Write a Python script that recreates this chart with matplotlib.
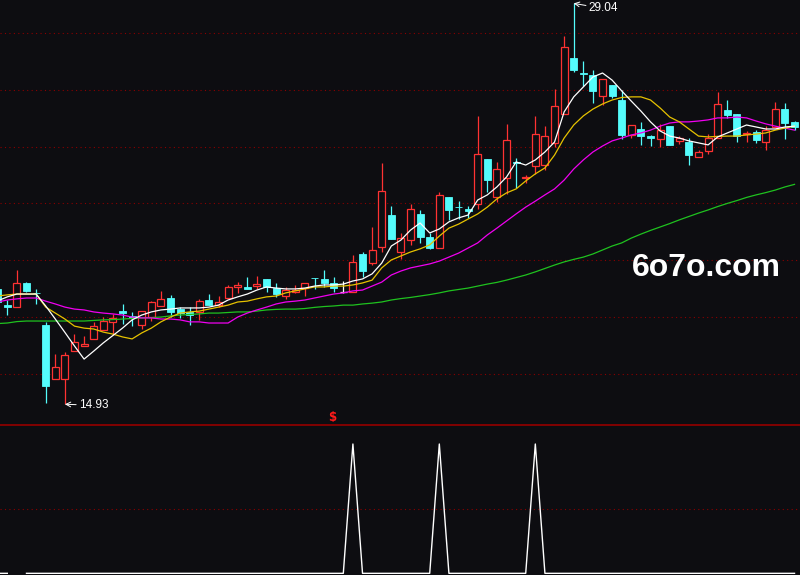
import numpy as np
import matplotlib.pyplot as plt
from matplotlib.patches import Rectangle

# daily candles (price)
opens = [18.99, 18.42, 18.35, 19.20, 18.86, 17.72, 15.82, 15.82, 16.80, 16.98,
         17.23, 17.54, 17.83, 18.20, 18.02, 17.72, 18.00, 18.39, 18.67, 18.28,
         18.18, 18.18, 18.60, 18.42, 18.67, 19.06, 19.06, 19.09, 19.34, 19.02,
         18.74, 18.88, 19.02, 19.39, 19.34, 19.20, 18.88, 18.88, 20.22, 19.90,
         20.47, 21.59, 20.29, 20.71, 21.63, 20.82, 20.43, 22.23, 21.89, 21.80,
         21.98, 23.56, 22.23, 22.89, 23.47, 22.89, 23.32, 23.35, 24.13, 25.15,
         27.12, 26.59, 26.52, 25.78, 26.17, 25.64, 24.41, 24.62, 24.37, 24.27,
         24.72, 24.20, 24.16, 23.63, 23.84, 24.30, 25.29, 25.15, 24.44, 24.51,
         24.16, 24.69, 25.32, 24.87]
closes = [18.53, 18.35, 19.20, 18.92, 18.83, 15.57, 16.24, 16.66, 17.12, 17.05,
          17.68, 17.86, 17.97, 18.16, 17.98, 18.21, 18.53, 18.64, 18.18, 18.14,
          18.07, 18.56, 18.42, 18.53, 19.06, 19.13, 18.99, 19.16, 19.06, 18.81,
          18.95, 18.95, 19.20, 19.36, 19.20, 19.02, 18.88, 19.94, 19.62, 20.36,
          22.44, 20.75, 20.78, 21.80, 20.82, 20.43, 22.30, 21.77, 21.86, 21.73,
          23.74, 22.82, 23.21, 24.23, 23.44, 22.93, 24.44, 24.37, 25.43, 27.51,
          26.70, 26.56, 25.96, 26.38, 25.78, 24.41, 24.76, 24.37, 24.30, 24.58,
          24.06, 24.30, 23.70, 23.81, 24.30, 25.50, 25.11, 24.37, 24.48, 24.23,
          24.58, 25.32, 24.83, 24.69]
highs = [19.13, 18.60, 19.66, 19.23, 18.99, 17.83, 16.70, 16.77, 17.40, 17.33,
         17.83, 18.00, 18.11, 18.46, 18.18, 18.21, 18.56, 18.92, 18.78, 18.35,
         18.35, 18.64, 18.81, 18.74, 19.13, 19.23, 19.41, 19.44, 19.34, 19.20,
         19.06, 19.13, 19.20, 19.39, 19.66, 19.41, 19.27, 20.18, 20.29, 21.17,
         23.42, 21.91, 20.96, 21.98, 21.77, 20.96, 22.40, 22.23, 22.08, 21.91,
         25.08, 23.56, 23.46, 24.80, 23.60, 23.00, 25.08, 24.72, 26.03, 27.89,
         29.04, 27.01, 26.70, 26.38, 26.17, 25.99, 24.76, 24.87, 24.40, 24.80,
         24.72, 24.37, 24.30, 23.88, 24.44, 25.92, 25.64, 25.15, 24.55, 24.58,
         24.72, 25.57, 25.53, 24.90]
lows = [18.42, 18.07, 18.35, 18.88, 18.46, 14.97, 15.82, 14.93, 16.80, 16.98,
        17.23, 17.54, 17.37, 17.76, 17.68, 17.58, 17.86, 18.39, 18.00, 17.97,
        17.72, 17.90, 18.42, 18.35, 18.67, 18.85, 18.99, 18.99, 18.88, 18.71,
        18.64, 18.85, 18.74, 18.99, 19.06, 18.88, 18.85, 18.88, 19.41, 19.83,
        20.29, 20.75, 20.04, 20.54, 20.61, 20.40, 20.43, 21.42, 21.45, 21.49,
        21.80, 22.40, 22.05, 22.33, 22.54, 22.72, 23.04, 23.18, 23.99, 25.15,
        26.63, 26.13, 25.53, 25.46, 25.71, 24.27, 24.30, 24.06, 24.02, 23.99,
        24.06, 24.09, 23.35, 23.63, 23.74, 24.30, 25.01, 24.16, 24.16, 24.13,
        23.88, 24.69, 24.27, 24.60]

# moving averages as drawn
ma5 = [18.57, 18.71, 18.81, 18.81, 18.81, 18.39, 17.93, 17.46, 16.98, 16.52,
       16.80, 17.09, 17.35, 17.61, 17.90, 18.07, 18.18, 18.25, 18.28, 18.32,
       18.32, 18.32, 18.35, 18.42, 18.60, 18.71, 18.81, 18.95, 19.06, 19.02,
       18.99, 18.99, 19.02, 19.09, 19.13, 19.13, 19.16, 19.27, 19.34, 19.52,
       19.90, 20.50, 20.71, 21.06, 21.31, 20.96, 21.10, 21.35, 21.49, 21.59,
       22.12, 22.30, 22.58, 22.93, 23.46, 23.35, 23.53, 23.81, 24.16, 25.22,
       25.75, 26.10, 26.45, 26.59, 26.34, 25.96, 25.60, 25.25, 24.87, 24.55,
       24.37, 24.30, 24.20, 24.13, 24.06, 24.34, 24.48, 24.62, 24.76, 24.69,
       24.62, 24.62, 24.69, 24.72]
ma10 = [18.74, 18.78, 18.81, 18.81, 18.81, 18.35, 18.14, 17.93, 17.68, 17.61,
        17.58, 17.47, 17.40, 17.30, 17.23, 17.44, 17.61, 17.83, 18.00, 18.14,
        18.18, 18.21, 18.28, 18.35, 18.42, 18.53, 18.56, 18.64, 18.71, 18.74,
        18.85, 18.92, 18.99, 19.06, 19.06, 19.09, 19.09, 19.13, 19.20, 19.30,
        19.73, 20.01, 20.15, 20.29, 20.40, 20.54, 20.85, 21.13, 21.27, 21.45,
        21.63, 21.87, 22.16, 22.37, 22.51, 22.79, 23.04, 23.25, 23.70, 24.30,
        24.76, 25.08, 25.32, 25.50, 25.64, 25.73, 25.75, 25.75, 25.64, 25.36,
        25.04, 24.87, 24.62, 24.37, 24.34, 24.36, 24.37, 24.37, 24.41, 24.44,
        24.48, 24.58, 24.65, 24.72]
ma20 = [18.53, 18.60, 18.64, 18.67, 18.67, 18.56, 18.46, 18.35, 18.28, 18.25,
        18.18, 18.14, 18.11, 18.07, 18.00, 17.97, 17.97, 17.93, 17.93, 17.90,
        17.83, 17.83, 17.79, 17.79, 17.79, 18.00, 18.14, 18.25, 18.35, 18.46,
        18.53, 18.56, 18.60, 18.67, 18.74, 18.81, 18.85, 18.92, 18.95, 19.09,
        19.23, 19.48, 19.62, 19.73, 19.80, 19.87, 19.97, 20.11, 20.25, 20.43,
        20.61, 20.89, 21.13, 21.38, 21.63, 21.87, 22.08, 22.30, 22.51, 22.82,
        23.21, 23.53, 23.81, 24.02, 24.20, 24.30, 24.41, 24.48, 24.58, 24.72,
        24.83, 24.87, 24.87, 24.90, 24.94, 25.01, 25.01, 25.04, 25.01, 24.90,
        24.80, 24.72, 24.65, 24.58]
ma60 = [17.77, 17.79, 17.84, 17.86, 17.86, 17.86, 17.86, 17.86, 17.86, 17.86,
        17.88, 17.90, 17.91, 17.93, 17.95, 17.97, 17.98, 18.00, 18.04, 18.07,
        18.09, 18.11, 18.14, 18.14, 18.16, 18.18, 18.18, 18.21, 18.25, 18.27,
        18.28, 18.28, 18.30, 18.34, 18.37, 18.39, 18.42, 18.42, 18.46, 18.49,
        18.53, 18.60, 18.65, 18.69, 18.74, 18.79, 18.85, 18.92, 18.97, 19.02,
        19.09, 19.16, 19.22, 19.30, 19.39, 19.48, 19.59, 19.71, 19.83, 19.94,
        20.03, 20.11, 20.22, 20.36, 20.50, 20.61, 20.78, 20.92, 21.05, 21.17,
        21.29, 21.42, 21.54, 21.66, 21.77, 21.89, 22.00, 22.10, 22.21, 22.30,
        22.38, 22.47, 22.58, 22.67]

# lower panel signal (1 = spike)
signal = [0, 0, np.nan, 0, 0, 0, 0, 0, 0, 0,
          0, 0, 0, 0, 0, 0, 0, 0, 0, 0,
          0, 0, 0, 0, 0, 0, 0, 0, 0, 0,
          0, 0, 0, 0, 0, 0, 0, 1, 0, 0,
          0, 0, 0, 0, 0, 0, 1, 0, 0, 0,
          0, 0, 0, 0, 0, 0, 1, 0, 0, 0,
          0, 0, 0, 0, 0, 0, 0, 0, 0, 0,
          0, 0, 0, 0, 0, 0, 0, 0, 0, 0,
          0, 0, 0, 0]

grid_levels = [16, 18, 20, 22, 24, 26, 28]
high_idx, high_label = 60, "29.04"
low_idx, low_label = 7, "14.93"
mark_idx = 35

bg = '#0d0d11'
up_col = '#ff3232'
down_col = '#54fcfc'
grid_col = '#8b0000'

fig = plt.figure(figsize=(8, 5.75), dpi=100, facecolor=bg)
ax = fig.add_axes([0, 150 / 575, 1, 425 / 575])
ax2 = fig.add_axes([0, 0, 1, 150 / 575])
for a in (ax, ax2):
    a.set_facecolor(bg)
    a.set_xticks([])
    a.set_yticks([])
    for s in a.spines.values():
        s.set_visible(False)
    a.set_xlim(0.24, 83.57)

ax.set_ylim(14.20, 29.16)
for lv in grid_levels:
    ax.axhline(lv, color=grid_col, ls=(0, (1, 3)), lw=0.8, zorder=1)

# candles
w = 0.73
for i in range(len(opens)):
    o, c, h, l = opens[i], closes[i], highs[i], lows[i]
    top, bot = max(o, c), min(o, c)
    if c > o:
        ax.add_patch(Rectangle((i - w / 2, bot), w, top - bot, facecolor=bg,
                               edgecolor=up_col, lw=0.9, zorder=3))
        ax.vlines(i, top, h, color=up_col, lw=0.9, zorder=3)
        ax.vlines(i, l, bot, color=up_col, lw=0.9, zorder=3)
    elif c < o:
        ax.vlines(i, l, h, color=down_col, lw=0.9, zorder=3)
        ax.add_patch(Rectangle((i - w / 2, bot), w, top - bot, facecolor=down_col,
                               edgecolor=down_col, lw=0.6, zorder=3))
    else:
        ax.vlines(i, l, h, color='white', lw=0.9, zorder=3)
        ax.hlines(c, i - w / 2, i + w / 2, color='white', lw=0.9, zorder=3)

x = np.arange(len(closes))
ax.plot(x, ma60, color='#1fc21f', lw=0.9, zorder=4)
ax.plot(x, ma20, color='#f000f0', lw=0.9, zorder=4)
ax.plot(x, ma10, color='#e6c200', lw=0.9, zorder=4)
ax.plot(x, ma5, color='white', lw=0.9, zorder=4)

# high / low labels
ax.annotate(high_label, xy=(high_idx, highs[high_idx]), xytext=(15, -5),
            textcoords='offset pixels', ha='left', va='center', color='white',
            fontsize=8.5, family='Liberation Sans',
            arrowprops=dict(arrowstyle='->', color='white', lw=0.7,
                            shrinkA=0, shrinkB=0))
ax.annotate(low_label, xy=(low_idx, lows[low_idx]), xytext=(14, -1),
            textcoords='offset pixels', ha='left', va='center', color='white',
            fontsize=8.5, family='Liberation Sans',
            arrowprops=dict(arrowstyle='->', color='white', lw=0.7,
                            shrinkA=0, shrinkB=0))

ax.text(mark_idx - 0.15, 14.48, '$', color='#ff1a1a', fontsize=8.5,
        fontweight='bold', ha='center', va='center', clip_on=False, zorder=5)

# lower panel
ax2.set_ylim(-0.013, 1.147)
ax2.spines['top'].set_visible(True)
ax2.spines['top'].set_color(grid_col)
ax2.spines['top'].set_linewidth(1.3)
ax2.axhline(0.5, color=grid_col, ls=(0, (1, 3)), lw=0.8)
ax2.plot(x, signal, color='white', lw=1.0)

fig.text(632 / 800, 1 - 276 / 575, '6o7o.com', color='white', fontsize=23,
         fontweight='bold', family='Liberation Sans', ha='left', va='baseline')

fig.savefig('out.png', dpi=100, facecolor=bg)
